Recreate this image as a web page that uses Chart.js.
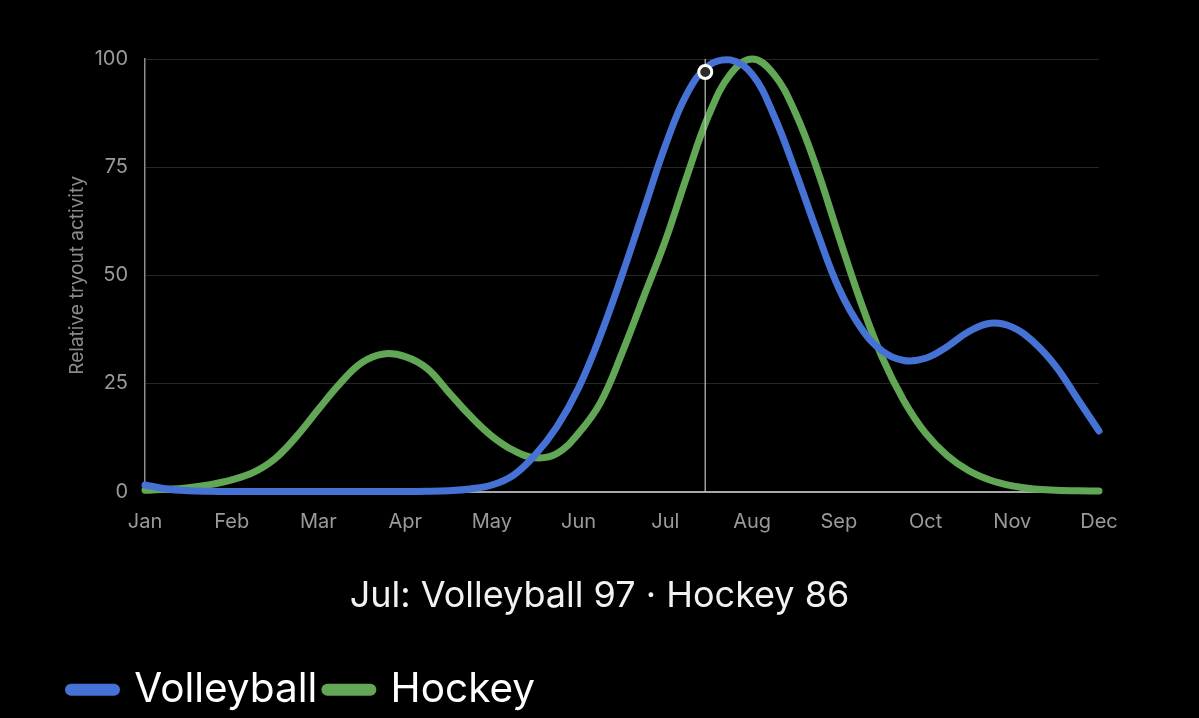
<!DOCTYPE html>
<html>
<head>
<meta charset="utf-8">
<script src="https://cdn.jsdelivr.net/npm/chart.js@4.4.1/dist/chart.umd.min.js"></script>
<style>
  html, body { margin: 0; padding: 0; background: #000; overflow: hidden; }
  #wrap { position: relative; width: 1199px; height: 718px; overflow: hidden; }
  canvas { display: block; }
  #caption {
    position: absolute; left: 0; top: 572px; width: 1199px;
    text-align: center; color: #f2f2f2;
    font-family: Inter, "Noto Sans", sans-serif; font-size: 36px; line-height: 44px;
  }
</style>
</head>
<body>
<div id="wrap">
  <canvas id="c" width="1199" height="740"></canvas>
  <div id="caption"></div>
</div>
<script>
// ---- data ----
const monthLabels = ['Jan','Feb','Mar','Apr','May','Jun','Jul','Aug','Sep','Oct','Nov','Dec'];
const sampleMonths = [0,0.25,0.5,0.75,1,1.25,1.5,1.75,2,2.25,2.5,2.75,3,3.25,3.5,3.75,4,4.25,4.5,4.75,5,5.25,5.5,5.75,6,6.25,6.5,6.75,7,7.25,7.5,7.75,8,8.25,8.5,8.75,9,9.25,9.5,9.75,10,10.25,10.5,10.75,11];
const volleyball = [1.5,0.6,0.2,0.05,0,0,0,0,0,0,0,0,0,0.05,0.2,0.6,1.5,3.8,8.5,15,24,36,50,65,80,92,98.5,99.8,96.5,87,74,60,47,38,32.5,30.3,30.8,33.5,37,38.9,38,34.5,29,21.5,14];
const hockey = [0.3,0.5,0.9,1.6,2.7,4.4,7.6,12.8,19,25,29.8,31.8,31.2,28.5,23,17.5,12.8,9.5,7.8,8.8,13.5,20.5,32,45,58,73,87,96.5,100,96.5,87.5,74.5,59,44,31,21,13.5,8.3,4.8,2.6,1.3,0.6,0.3,0.15,0.1];
const yTicks = [0,25,50,75,100];
const cursorMonth = 6.46;
const cursorLabel = 'Jul';
const cursorVolleyball = 97;
const cursorHockey = 86;

const FONT = 'Inter, "Noto Sans", sans-serif';
Chart.defaults.font.family = FONT;

document.getElementById('caption').textContent =
  cursorLabel + ': Volleyball ' + cursorVolleyball + ' \u00B7 Hockey ' + cursorHockey;

const toPoints = (vals) => vals.map((v, i) => ({x: sampleMonths[i], y: v}));

const cursorPlugin = {
  id: 'cursor',
  afterDatasetsDraw(chart) {
    const {ctx, chartArea, scales} = chart;
    const px = scales.x.getPixelForValue(cursorMonth);
    ctx.save();
    ctx.strokeStyle = 'rgba(210,210,210,0.75)';
    ctx.lineWidth = 1.5;
    ctx.beginPath();
    ctx.moveTo(px, chartArea.top);
    ctx.lineTo(px, chartArea.bottom);
    ctx.stroke();
    const py = scales.y.getPixelForValue(cursorVolleyball);
    ctx.beginPath();
    ctx.arc(px, py, 6.5, 0, Math.PI * 2);
    ctx.fillStyle = '#2b2b2b';
    ctx.fill();
    ctx.lineWidth = 3;
    ctx.strokeStyle = '#ffffff';
    ctx.stroke();
    ctx.restore();
  }
};

new Chart(document.getElementById('c'), {
  type: 'line',
  data: {
    datasets: [
      { label: 'Volleyball', data: toPoints(volleyball), borderColor: '#4671d5', backgroundColor: '#4671d5',
        borderWidth: 7, borderCapStyle: 'round', borderJoinStyle: 'round', pointRadius: 0,
        tension: 0.4, clip: false },
      { label: 'Hockey', data: toPoints(hockey), borderColor: '#62a755', backgroundColor: '#62a755',
        borderWidth: 7, borderCapStyle: 'round', borderJoinStyle: 'round', pointRadius: 0,
        tension: 0.4, clip: false }
    ]
  },
  options: {
    responsive: false,
    animation: false,
    events: [],
    layout: { padding: { left: 61, right: 100, top: 59, bottom: 20 } },
    scales: {
      x: {
        type: 'linear', min: 0, max: 11,
        afterBuildTicks: (s) => { s.ticks = monthLabels.map((m, i) => ({value: i})); },
        ticks: { callback: (v) => monthLabels[v], autoSkip: false, maxRotation: 0,
                 color: '#9a9a9a', font: { size: 20 }, padding: 10 },
        grid: { display: false },
        border: { display: true, color: '#a8a8a8', width: 2 },
        afterFit: (s) => { s.height = 168; }
      },
      y: {
        min: 0, max: 100,
        afterBuildTicks: (s) => { s.ticks = yTicks.map(v => ({value: v})); },
        ticks: { color: '#9a9a9a', font: { size: 20 }, padding: 17 },
        grid: { color: '#262626', lineWidth: 1, drawTicks: false },
        border: { display: true, color: '#8c8c8c', width: 1.5 },
        title: { display: true, text: 'Relative tryout activity', color: '#8a8a8a',
                 font: { size: 19 }, padding: { top: 5, bottom: 0 } },
        afterFit: (s) => { s.width = 84; }
      }
    },
    plugins: {
      tooltip: { enabled: false },
      title: { display: false },
      legend: {
        display: true, position: 'bottom', align: 'start',
        labels: {
          usePointStyle: true, pointStyle: 'line', pointStyleWidth: 43,
          color: '#ffffff', font: { size: 40.5 }, padding: 10,
          generateLabels: (chart) => Chart.defaults.plugins.legend.labels.generateLabels(chart)
            .map(it => Object.assign(it, { lineWidth: 12, lineCap: 'round' }))
        }
      }
    }
  },
  plugins: [cursorPlugin]
});
</script>
</body>
</html>
